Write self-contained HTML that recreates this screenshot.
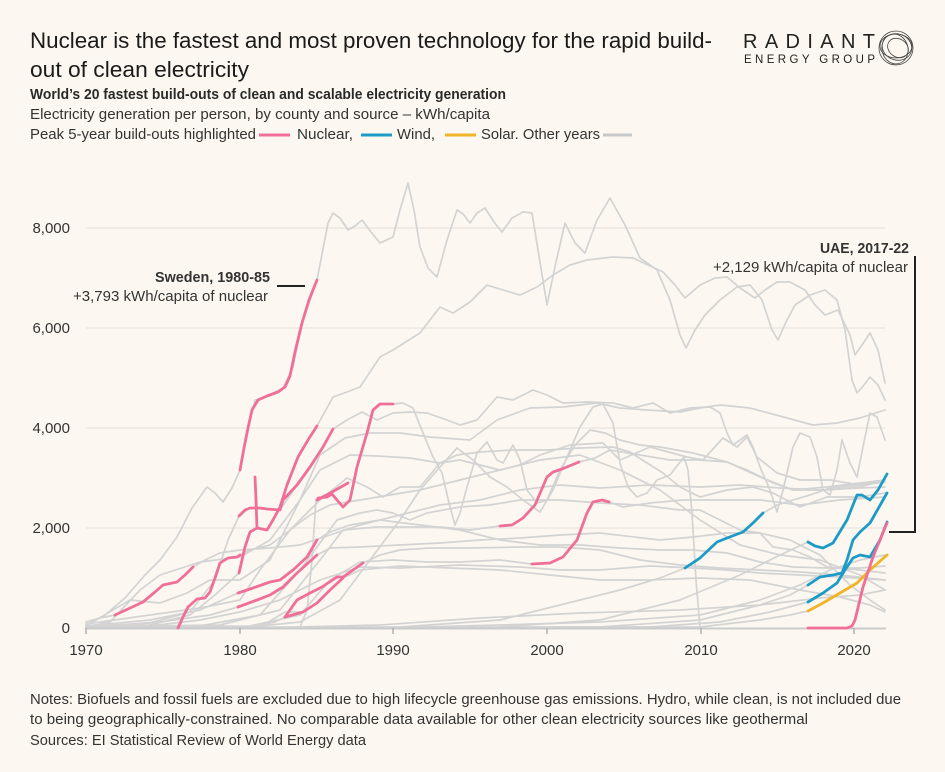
<!DOCTYPE html>
<html>
<head>
<meta charset="utf-8">
<style>
html,body{margin:0;padding:0;background:#fcf8f1;}
svg{display:block;}
text{font-family:"Liberation Sans",sans-serif;}
</style>
</head>
<body>
<svg width="945" height="772" viewBox="0 0 945 772" xmlns="http://www.w3.org/2000/svg">
<rect x="0" y="0" width="945" height="772" fill="#fcf8f1"/>

<!-- Title block -->
<text x="30" y="48" font-size="22" fill="#1a1a1a" textLength="682" lengthAdjust="spacingAndGlyphs">Nuclear is the fastest and most proven technology for the rapid build-</text>
<text x="30" y="77" font-size="22" fill="#1a1a1a" textLength="219" lengthAdjust="spacingAndGlyphs">out of clean electricity</text>
<text x="30" y="99" font-size="14.5" font-weight="bold" fill="#2a2a2a" textLength="476" lengthAdjust="spacingAndGlyphs">World’s 20 fastest build-outs of clean and scalable electricity generation</text>
<text x="30" y="119" font-size="14.5" fill="#333" textLength="460" lengthAdjust="spacingAndGlyphs">Electricity generation per person, by county and source – kWh/capita</text>
<text x="30" y="139" font-size="14.5" fill="#333" textLength="226" lengthAdjust="spacingAndGlyphs">Peak 5-year build-outs highlighted</text>
<line x1="259" y1="135" x2="290" y2="135" stroke="#ef6f98" stroke-width="3"/>
<text x="297" y="139" font-size="14.5" fill="#333" textLength="56" lengthAdjust="spacingAndGlyphs">Nuclear,</text>
<line x1="361" y1="135" x2="392" y2="135" stroke="#1d9bc6" stroke-width="3"/>
<text x="397" y="139" font-size="14.5" fill="#333" textLength="38" lengthAdjust="spacingAndGlyphs">Wind,</text>
<line x1="445" y1="135" x2="476" y2="135" stroke="#f0b429" stroke-width="3"/>
<text x="481" y="139" font-size="14.5" fill="#333" textLength="119" lengthAdjust="spacingAndGlyphs">Solar. Other years</text>
<line x1="603" y1="135" x2="632" y2="135" stroke="#c8c8c8" stroke-width="3"/>

<!-- Logo -->
<text x="743" y="48" font-size="20" fill="#222" textLength="132" lengthAdjust="spacing">RADIANT</text>
<text x="744" y="63" font-size="11.5" fill="#222" textLength="131" lengthAdjust="spacing">ENERGY GROUP</text>
<g fill="none" stroke="#444" stroke-width="0.8">
<ellipse cx="896" cy="48" rx="17" ry="17"/>
<ellipse cx="897" cy="47" rx="15" ry="13" transform="rotate(20 897 47)"/>
<ellipse cx="895" cy="49" rx="13" ry="15" transform="rotate(-15 895 49)"/>
<ellipse cx="898" cy="48" rx="11" ry="9" transform="rotate(35 898 48)"/>
<ellipse cx="896" cy="46" rx="16" ry="12"/>
</g>

<!-- Gridlines -->
<g stroke="#ece8e1" stroke-width="1.5">
<line x1="86" y1="228" x2="885" y2="228"/>
<line x1="86" y1="328" x2="885" y2="328"/>
<line x1="86" y1="428" x2="885" y2="428"/>
<line x1="86" y1="528" x2="885" y2="528"/>
</g>

<!-- Y labels -->
<g font-size="15" fill="#333" text-anchor="end">
<text x="70" y="233">8,000</text>
<text x="70" y="333">6,000</text>
<text x="70" y="433">4,000</text>
<text x="70" y="533">2,000</text>
<text x="70" y="633">0</text>
</g>

<!-- Gray series -->
<g fill="none" stroke="#d3d3d3" stroke-width="1.7" stroke-linejoin="round" stroke-linecap="round">
<polyline points="86,625 105,615 125,598 145,575 160,560 177,537 192,508 207,487 215,493 223,502 232,488 240,470 248,428 255,400 267,396 283,388 293,367 302,323 317,280 328,223 333,213 340,218 348,230 355,226 362,220 371,232 380,243 393,237 400,210 408,183 414,210 420,247 428,268 437,277 447,240 457,210 463,214 470,223 477,213 485,208 494,222 502,232 512,218 523,212 532,213 538,250 547,305 556,262 565,223 575,243 585,253 597,220 610,198 625,225 640,258 657,270 670,300 680,335 686,348 695,330 705,315 720,300 737,287 750,285 762,300 772,330 778,340 786,322 795,305 810,295 825,290 837,300 845,330 852,380 857,393 864,385 870,377 878,385 885,400"/>
<polyline points="86,627 150,625 190,615 215,595 239,573 245,547 250,532 257,528 267,530 273,520 280,507 287,485 298,457 308,440 317,426 333,397 347,392 360,387 380,357 393,350 420,333 440,307 453,313 470,302 487,285 503,290 520,295 537,287 553,275 570,265 587,260 613,257 633,258 650,266 663,272 675,285 685,298 700,285 715,278 727,277 740,288 755,298 765,290 777,282 790,282 805,290 815,305 825,315 838,310 850,335 855,355 862,345 870,333 878,350 885,383"/>
<polyline points="86,627 150,623 190,612 215,580 228,540 239,516 250,508 267,509 280,510 297,485 310,467 323,447 333,429 347,420 362,412 377,420 393,413 410,412 427,413 447,420 460,425 477,420 497,397 513,400 533,390 547,395 563,403 587,402 613,403 633,408 653,403 670,413 690,408 710,407 720,413 727,433 733,445 740,440 747,435 753,447 760,467 770,490 777,512 783,490 793,447 800,433 810,437 817,457 823,490 830,495 837,470 842,440 850,463 857,477 863,447 870,413 877,417 885,440"/>
<polyline points="86,628 280,628 300,627 307,610 312,560 316,500 327,497 332,494 337,500 343,507 350,500 357,467 367,433 373,410 380,404 393,404 403,403 413,408 423,433 433,457 442,473 450,507 455,525 460,513 467,487 477,453 487,442 497,460 503,463 513,445 520,460 527,490 537,503 547,500 560,470 575,445 590,430 605,433 620,440 640,445 660,447 693,453 727,462 747,470 773,483 793,490 827,487 860,483 885,480"/>
<polyline points="86,628 250,627 300,622 340,600 370,560 400,520 420,490 440,467 457,448 473,460 490,477 507,487 523,500 540,512 553,490 567,457 580,427 593,407 603,404 613,423 620,463 628,487 637,497 647,493 657,480 670,475 684,457 688,470 692,513 696,580 700,628"/>
<polyline points="86,627 110,622 140,590 160,575 200,562 240,557 270,540 300,500 320,455 345,438 370,433 400,433 430,437 470,440 497,420 530,408 563,407 597,403 620,408 647,410 680,412 700,408 720,405 750,408 787,418 813,425 837,423 860,418 885,410"/>
<polyline points="86,626 130,600 160,603 187,593 210,580 240,580 270,560 300,500 320,470 350,455 377,456 410,458 440,463 457,455 480,452 513,450 547,450 580,448 613,447 630,452 647,463 663,473 680,487 700,497 727,490 753,487 773,493 800,507 827,497 860,497 885,493"/>
<polyline points="86,624 150,615 200,608 240,600 260,570 290,530 320,500 347,478 367,487 383,497 400,487 420,487 440,463 460,460 480,465 500,470 520,465 540,455 570,445 603,443 620,460 650,447 687,457 703,460 723,438 737,447 747,437 757,457 777,473 800,480 830,480 860,485 885,482"/>
<polyline points="86,628 200,626 260,615 300,570 337,520 360,513 377,510 393,513 410,520 427,513 460,507 490,505 520,500 560,500 600,503 640,505 680,510 700,510 740,530 760,533 773,547 793,550 810,557 827,567 860,570 885,573"/>
<polyline points="86,627 220,625 280,610 320,560 343,530 377,527 410,527 440,527 470,530 500,526 512,525 523,518 535,505 547,477 553,472 562,469 579,462 595,458 610,450 640,455 670,460 700,460 727,462 760,477 793,490 827,490 860,487 885,480"/>
<polyline points="86,627 250,626 300,615 330,580 360,562 393,560 427,562 460,562 500,560 532,564 550,563 563,557 577,540 587,513 593,502 602,500 609,502 623,507 650,503 683,500 720,500 760,500 800,505 840,500 885,497"/>
<polyline points="86,628 150,626 200,620 240,612 280,600 320,580 360,567 400,568 460,565 520,567 560,570 600,570 650,566 693,568 727,570 760,573 800,575 840,577 885,580"/>
<polyline points="86,626 150,620 200,610 238,593 253,588 270,582 280,580 293,570 307,557 317,540 330,532 350,525 380,520 420,525 460,530 500,540 540,545 580,545 620,548 660,550 693,550 727,553 760,562 793,567 827,568 860,568 885,566"/>
<polyline points="86,627 160,622 210,615 238,607 257,600 270,595 283,587 297,573 317,555 330,548 360,547 400,545 440,543 480,540 520,538 560,535 600,533 660,540 693,537 727,533 760,533 790,540 820,555 850,585 870,600 885,610"/>
<polyline points="86,628 250,627 275,622 285,617 297,600 310,593 322,587 337,577 343,577 363,563 380,555 400,550 430,548 470,548 520,547 560,547 600,550 640,560 680,565 720,568 760,570 800,572 840,575 885,580"/>
<polyline points="86,628 260,627 285,612 303,612 317,603 330,590 343,578 360,570 400,566 450,568 500,570 550,575 600,580 650,580 700,578 750,580 800,590 840,597 870,605 885,612"/>
<polyline points="86,622 100,618 115,615 128,609 143,602 155,592 163,585 177,582 185,575 193,567 205,560 220,553 240,550 270,548 300,545 330,535 360,525 400,515 440,505 480,500 520,490 560,485 600,488 650,485 700,487 740,485 780,488 820,490 860,488 885,487"/>
<polyline points="86,628 178,628 183,617 188,607 197,599 205,598 210,592 215,578 220,563 228,558 237,557 240,555 250,550 270,545 290,530 310,515 330,505 360,500 390,495 420,490 460,480 500,470 540,460 580,455 620,470 660,490 700,520 740,545 780,555 820,560 860,575 885,590"/>
<polyline points="86,628 400,627 500,620 560,605 620,590 660,578 685,568 700,558 717,542 727,538 743,532 753,523 763,513 777,505 793,500 810,495 830,488 860,485 885,480"/>
<polyline points="86,628 500,627 600,620 680,600 740,575 780,555 808,542"/>
<polyline points="86,628 600,627 700,620 760,605 790,595 808,585"/>
<polyline points="86,628 650,627 720,622 770,612 808,602"/>
<polyline points="86,628 700,627 760,620 790,615 808,611"/>
<polyline points="86,628 300,627 380,625 480,618 580,613 680,610 760,605 820,598 860,595 885,590"/>
<polyline points="86,628 380,628 500,625 600,622 700,615 760,600 800,585 830,570 860,560 885,555"/>
</g>

<!-- Axis baseline and ticks -->
<line x1="86" y1="628.5" x2="886" y2="628.5" stroke="#cbcbcb" stroke-width="2"/>
<g stroke="#b0b0b0" stroke-width="1.5">
<line x1="86" y1="628" x2="86" y2="634"/>
<line x1="240" y1="628" x2="240" y2="634"/>
<line x1="393" y1="628" x2="393" y2="634"/>
<line x1="547" y1="628" x2="547" y2="634"/>
<line x1="701" y1="628" x2="701" y2="634"/>
<line x1="854" y1="628" x2="854" y2="634"/>
</g>
<g font-size="15" fill="#333" text-anchor="middle">
<text x="86" y="655">1970</text>
<text x="240" y="655">1980</text>
<text x="393" y="655">1990</text>
<text x="547" y="655">2000</text>
<text x="701" y="655">2010</text>
<text x="854" y="655">2020</text>
</g>

<!-- Highlighted segments -->
<g fill="none" stroke-width="2.8" stroke-linejoin="round" stroke-linecap="round">
<g stroke="#ef6f98">
<polyline points="240,470 244,448 248,428 252,410 258,400 267,396 278,392 285,387 290,376 295,352 302,323 309,300 317,280"/>
<polyline points="115,615 128,609 143,602 155,592 163,585 177,582 185,575 193,567"/>
<polyline points="178,628 183,617 188,607 197,599 205,598 210,592 215,578 220,563 228,558 237,557 240,555"/>
<polyline points="239,573 242,560 245,547 250,532 257,528 267,530 273,520 280,507 287,485 298,457 308,440 317,426"/>
<polyline points="255,477 256,500 257,528"/>
<polyline points="239,516 245,510 250,508 260,508 267,509 280,510 283,500 297,485 310,467 323,447 333,429"/>
<polyline points="238,593 253,588 270,582 280,580 293,570 307,557 317,540"/>
<polyline points="238,607 257,600 270,595 283,587 297,573 317,555"/>
<polyline points="285,617 297,600 310,593 322,587 337,577 343,577 363,563"/>
<polyline points="285,617 303,612 317,603 330,590 343,578"/>
<polyline points="317,500 332,492 348,483"/>
<polyline points="318,498 327,497 332,494 337,500 343,507 350,500 357,467 367,433 373,410 380,404 393,404"/>
<polyline points="500,526 512,525 523,518 535,505 547,477 553,472 562,469 579,462"/>
<polyline points="532,564 550,563 563,557 577,540 587,513 593,502 602,500 609,502"/>
</g>
<g stroke="#1d9bc6">
<polyline points="685,568 700,558 717,542 727,538 743,532 753,523 763,513"/>
<polyline points="808,542 815,546 823,548 833,543 847,520 857,495 862,495 870,500 878,490 887,474"/>
<polyline points="808,585 820,577 833,575 842,573 847,560 853,540 860,532 870,523 887,493"/>
<polyline points="808,602 823,593 837,583 845,570 853,558 860,555 870,557 880,540 887,522"/>
</g>
<polyline stroke="#f0b429" points="808,611 823,603 840,593 857,583 870,570 887,555"/>
<polyline stroke="#ef6f98" points="808,628 847,628 852,626 855,620 863,587 873,557 887,523"/>
</g>

<!-- Annotations -->
<text x="155" y="282" font-size="14.5" font-weight="bold" fill="#333" textLength="115" lengthAdjust="spacingAndGlyphs">Sweden, 1980-85</text>
<text x="73" y="301" font-size="14.5" fill="#333" textLength="195" lengthAdjust="spacingAndGlyphs">+3,793 kWh/capita of nuclear</text>
<line x1="277" y1="286" x2="305" y2="286" stroke="#222" stroke-width="2"/>

<text x="820" y="253" font-size="14.5" font-weight="bold" fill="#333" textLength="89" lengthAdjust="spacingAndGlyphs">UAE, 2017-22</text>
<text x="713" y="272" font-size="14.5" fill="#333" textLength="195" lengthAdjust="spacingAndGlyphs">+2,129 kWh/capita of nuclear</text>
<path d="M915,256 V532 H889" fill="none" stroke="#222" stroke-width="2"/>

<!-- Notes -->
<text x="30" y="704" font-size="15" fill="#333" textLength="871" lengthAdjust="spacingAndGlyphs">Notes: Biofuels and fossil fuels are excluded due to high lifecycle greenhouse gas emissions. Hydro, while clean, is not included due</text>
<text x="30" y="724" font-size="15" fill="#333" textLength="778" lengthAdjust="spacingAndGlyphs">to being geographically-constrained. No comparable data available for other clean electricity sources like geothermal</text>
<text x="30" y="745" font-size="15" fill="#333" textLength="336" lengthAdjust="spacingAndGlyphs">Sources: EI Statistical Review of World Energy data</text>
</svg>
</body>
</html>
